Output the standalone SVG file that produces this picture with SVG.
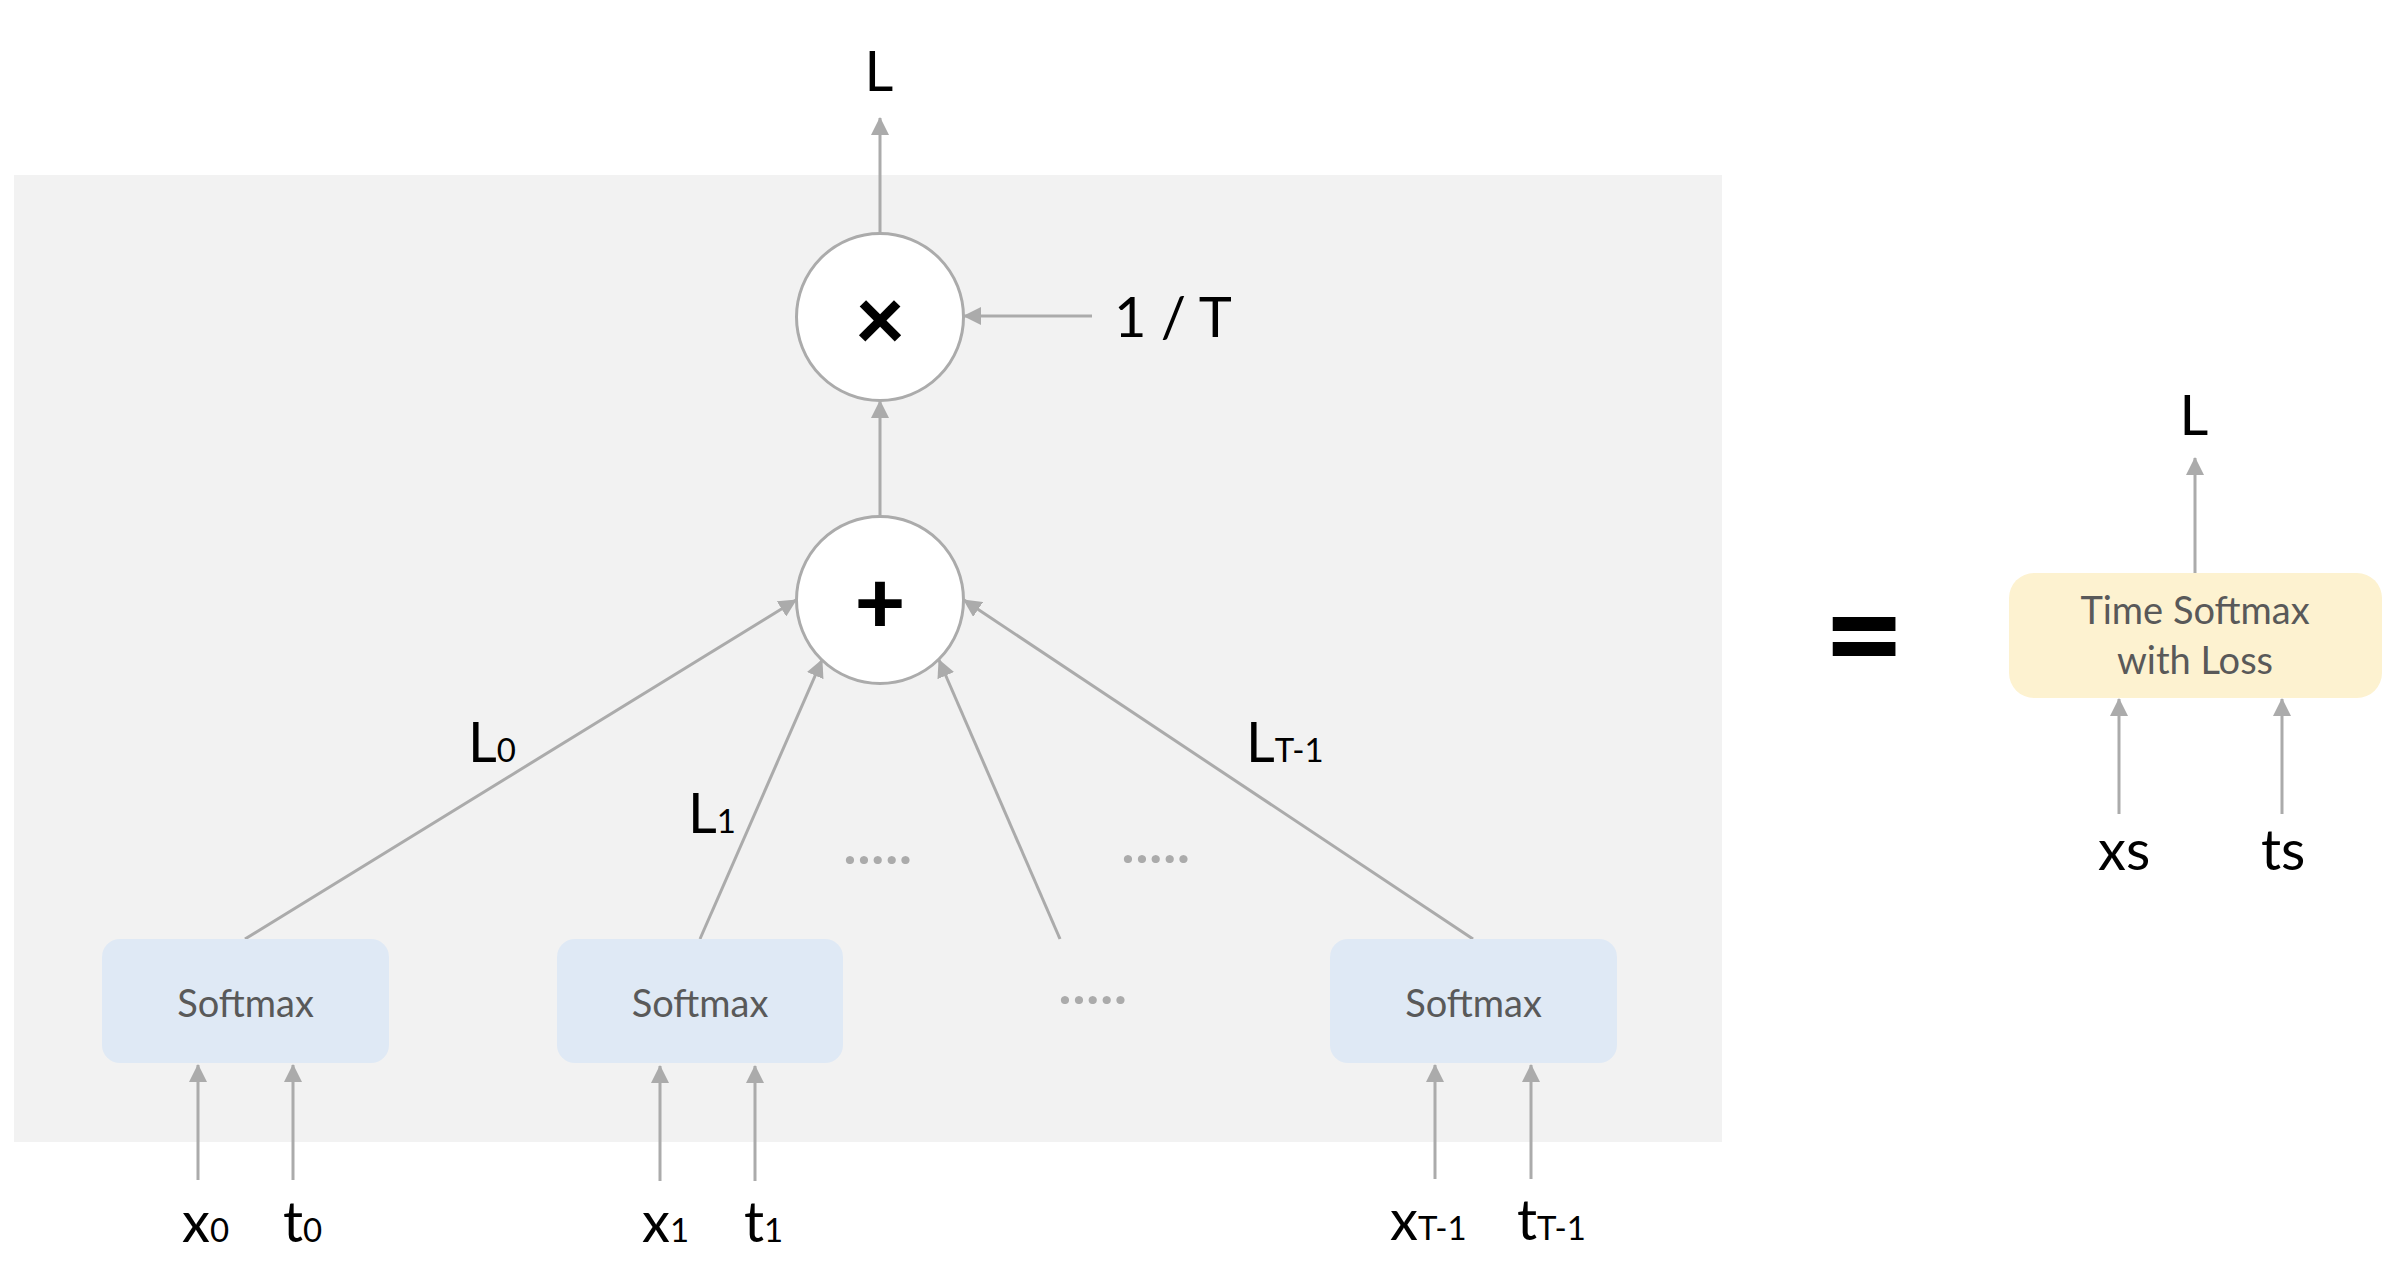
<svg xmlns="http://www.w3.org/2000/svg" width="2402" height="1288" viewBox="0 0 2402 1288">
<defs>
<marker id="ah" viewBox="0 0 18 18" refX="17" refY="9" markerWidth="18" markerHeight="18" markerUnits="userSpaceOnUse" orient="auto">
<path d="M0,0 L18,9 L0,18 z" fill="#ABABAB"/>
</marker>
<style>
.ln{stroke:#ABABAB;stroke-width:3;fill:none}
.ar{marker-end:url(#ah)}
.circ{fill:#FFFFFF;stroke:#ABABAB;stroke-width:3}
.sm{fill:#DFE9F5}
.tsl{fill:#FDF2D0}
.boxt{font-family:Lato,"Liberation Sans",sans-serif;font-size:38px;fill:#595959;text-anchor:middle}
.lab{font-family:Lato,"Liberation Sans",sans-serif;font-size:56px;fill:#000000}
.sub{font-size:33px}
.op{font-family:Lato,"Liberation Sans",sans-serif;font-weight:900;fill:#000000;text-anchor:middle}
.dots{font-family:Lato,"Liberation Sans",sans-serif;font-size:50px;font-weight:900;fill:#ABABAB;letter-spacing:2px}
</style>
</defs>
<rect x="14" y="175" width="1708" height="967" fill="#F2F2F2"/>
<g id="connectors">
<line class="ln ar" x1="880" y1="233" x2="880" y2="118"/>
<line class="ln ar" x1="1092" y1="316" x2="964" y2="316"/>
<line class="ln ar" x1="880" y1="516" x2="880" y2="401"/>
<line class="ln ar" x1="245" y1="939" x2="796" y2="600"/>
<line class="ln ar" x1="700" y1="939" x2="822" y2="660"/>
<line class="ln ar" x1="1060" y1="939" x2="939" y2="660"/>
<line class="ln ar" x1="1473" y1="939" x2="964" y2="600"/>
<line class="ln ar" x1="198" y1="1180" x2="198" y2="1065"/>
<line class="ln ar" x1="293" y1="1180" x2="293" y2="1065"/>
<line class="ln ar" x1="660" y1="1181" x2="660" y2="1066"/>
<line class="ln ar" x1="755" y1="1181" x2="755" y2="1066"/>
<line class="ln ar" x1="1435" y1="1179" x2="1435" y2="1065"/>
<line class="ln ar" x1="1531" y1="1179" x2="1531" y2="1065"/>
<line class="ln ar" x1="2195" y1="573" x2="2195" y2="458"/>
<line class="ln ar" x1="2119" y1="814" x2="2119" y2="699"/>
<line class="ln ar" x1="2282" y1="814" x2="2282" y2="699"/>
</g>
<g id="mul">
<circle class="circ" cx="880" cy="317" r="83.5"/>
<text class="op" x="880" y="350" font-size="88">×</text>
</g>
<g id="add">
<circle class="circ" cx="880" cy="600" r="83.5"/>
<text class="op" x="880" y="633" font-size="88">+</text>
</g>
<g id="softmax0">
<rect class="sm" x="102" y="939" width="287" height="124" rx="18"/>
<text class="boxt" x="245.5" y="1017">Softmax</text>
</g>
<g id="softmax1">
<rect class="sm" x="557" y="939" width="286" height="124" rx="18"/>
<text class="boxt" x="700" y="1017">Softmax</text>
</g>
<g id="softmaxT">
<rect class="sm" x="1330" y="939" width="287" height="124" rx="18"/>
<text class="boxt" x="1473.5" y="1017">Softmax</text>
</g>
<g id="timesoftmax">
<rect class="tsl" x="2009" y="573" width="373" height="125" rx="25"/>
<text class="boxt" x="2195" y="624">Time Softmax</text>
<text class="boxt" x="2195" y="674">with Loss</text>
</g>
<g id="labels">
<text class="lab" x="879" y="91" text-anchor="middle">L</text>
<text class="lab" x="1114" y="337" font-size="54">1 / T</text>
<text class="lab" x="468" y="762">L<tspan class="sub">0</tspan></text>
<text class="lab" x="688" y="833">L<tspan class="sub">1</tspan></text>
<text class="lab" x="1246" y="762">L<tspan class="sub">T-1</tspan></text>
<text class="lab" x="182" y="1242">x<tspan class="sub">0</tspan></text>
<text class="lab" x="283" y="1242">t<tspan class="sub">0</tspan></text>
<text class="lab" x="642" y="1242">x<tspan class="sub">1</tspan></text>
<text class="lab" x="744" y="1242">t<tspan class="sub">1</tspan></text>
<text class="lab" x="1390" y="1240">x<tspan class="sub">T-1</tspan></text>
<text class="lab" x="1517" y="1240">t<tspan class="sub">T-1</tspan></text>
<text class="lab" x="2194" y="435" text-anchor="middle">L</text>
<text class="lab" x="2098" y="870">xs</text>
<text class="lab" x="2261" y="870">ts</text>
<text class="op" x="1864" y="683" font-size="140">=</text>
<text class="dots" x="844" y="864">.....</text>
<text class="dots" x="1122" y="863">.....</text>
<text class="dots" x="1059" y="1004">.....</text>
</g>
</svg>
